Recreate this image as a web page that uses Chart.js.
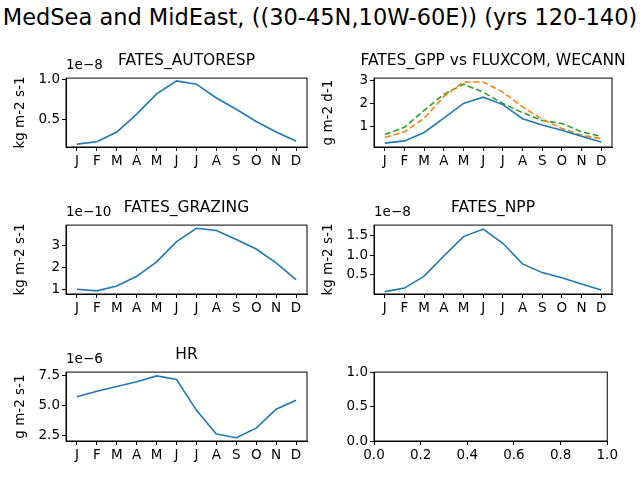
<!DOCTYPE html>
<html>
<head>
<script src="https://cdn.jsdelivr.net/npm/chart.js@4"></script>
<style>
  body { margin: 0; width: 640px; height: 480px; background: #fff; position: relative; overflow: hidden; font-family: "DejaVu Sans", sans-serif; }
  canvas { position: absolute; }
  .lbl { position: absolute; white-space: nowrap; color: #000; }
  .title { font-size: 15.5px; transform: translateX(-50%); }
  .sup { font-size: 22.5px; left: 320px; top: 4px; transform: translateX(-50%); }
  .exp { font-size: 13.5px; }
</style>
</head>
<body>
<div class="lbl sup">MedSea and MidEast, ((30-45N,10W-60E)) (yrs 120-140)</div>
<script>
const months = ["J", "F", "M", "A", "M", "J", "J", "A", "S", "O", "N", "D"];

const autoresp = [0.20, 0.23, 0.35, 0.57, 0.82, 0.98, 0.94, 0.77, 0.63, 0.48, 0.35, 0.24];
const gppFates = [0.25, 0.35, 0.72, 1.35, 2.0, 2.28, 1.95, 1.33, 1.05, 0.82, 0.55, 0.3];
const gppFluxcom = [0.5, 0.75, 1.35, 2.3, 2.95, 2.95, 2.5, 1.85, 1.3, 0.9, 0.6, 0.45];
const gppWecann = [0.63, 0.95, 1.7, 2.4, 2.85, 2.5, 2.0, 1.6, 1.25, 1.12, 0.75, 0.55];
const grazing = [1.02, 0.95, 1.17, 1.6, 2.25, 3.15, 3.75, 3.65, 3.25, 2.82, 2.2, 1.45];
const npp = [0.08, 0.17, 0.47, 0.98, 1.47, 1.66, 1.3, 0.78, 0.56, 0.43, 0.27, 0.12];
const hr = [5.75, 6.2, 6.6, 7.0, 7.5, 7.2, 4.6, 2.6, 2.3, 3.1, 4.7, 5.45];

const blue = "#1f77b4", orange = "#ff7f0e", green = "#2ca02c";
const font = { family: "DejaVu Sans", size: 13.5 };

const boxPlugin = {
  id: "box",
  afterDraw(chart) {
    const a = chart.chartArea, c = chart.ctx;
    c.save();
    c.strokeStyle = "#000";
    c.lineWidth = 1;
    c.strokeRect(a.left, a.top, a.right - a.left, a.bottom - a.top);
    c.restore();
  },
};

function addLabel(cls, text, left, top) {
  const d = document.createElement("div");
  d.className = "lbl " + cls;
  d.textContent = text;
  d.style.left = left + "px";
  d.style.top = top + "px";
  document.body.appendChild(d);
}

function makePlot(p) {
  const padL = 54, padT = 6, padR = 8, padB = 28;
  const cv = document.createElement("canvas");
  const w = p.w + padL + padR, h = p.h + padT + padB;
  cv.width = w; cv.height = h;
  cv.style.left = (p.x - padL) + "px";
  cv.style.top = (p.y - padT) + "px";
  cv.style.width = w + "px";
  cv.style.height = h + "px";
  document.body.appendChild(cv);

  const datasets = (p.series || []).map((s) => ({
    data: s.values.map((v, i) => ({ x: i, y: v })),
    borderColor: s.color,
    borderWidth: 1.6,
    borderDash: s.dash || [],
    pointRadius: 0,
    tension: 0,
    fill: false,
  }));

  const monthAxis = p.series != null;
  new Chart(cv, {
    type: "line",
    data: { datasets },
    options: {
      responsive: false,
      animation: false,
      layout: { padding: { top: padT, right: padR, left: 0, bottom: 0 } },
      plugins: { legend: { display: false }, tooltip: { enabled: false } },
      scales: {
        x: {
          type: "linear",
          min: monthAxis ? -0.55 : 0,
          max: monthAxis ? 11.55 : 1,
          afterBuildTicks: (ax) => {
            ax.ticks = monthAxis ? months.map((m, i) => ({ value: i })) : [0, 0.2, 0.4, 0.6, 0.8, 1.0].map((v) => ({ value: v }));
          },
          afterFit: (ax) => { ax.height = padB; },
          ticks: {
            color: "#000", font, padding: 2, maxRotation: 0, autoSkip: false,
            callback: (v) => monthAxis ? months[Math.round(v)] : Number(v).toFixed(1),
          },
          grid: { drawOnChartArea: false, color: "#000", tickLength: 4 },
          border: { color: "#000" },
        },
        y: {
          min: p.ymin, max: p.ymax,
          afterBuildTicks: (ax) => { ax.ticks = p.yticks.map((v) => ({ value: v })); },
          afterFit: (ax) => { ax.width = padL; },
          title: { display: !!p.ylabel, text: p.ylabel, color: "#000", font, padding: 0 },
          ticks: { color: "#000", font, padding: 2, callback: (v) => Number(v).toFixed(p.dec) },
          grid: { drawOnChartArea: false, color: "#000", tickLength: 4 },
          border: { color: "#000" },
        },
      },
    },
    plugins: [boxPlugin],
  });

  if (p.title) addLabel("title", p.title, p.x + p.w / 2, p.y - 23);
  if (p.exp) addLabel("exp", p.exp, p.x, p.y - 18);
}

makePlot({ x: 66, y: 74, w: 241, h: 73, ymin: 0.165, ymax: 1.015, yticks: [0.5, 1.0], dec: 1,
  title: "FATES_AUTORESP", exp: "1e\u22128", ylabel: "kg m-2 s-1", series: [{ values: autoresp, color: blue }] });
makePlot({ x: 374, y: 74, w: 238, h: 73, ymin: 0.08, ymax: 3.12, yticks: [1, 2, 3], dec: 0,
  title: "FATES_GPP vs FLUXCOM, WECANN", ylabel: "g m-2 d-1",
  series: [
    { values: gppFates, color: blue },
    { values: gppFluxcom, color: orange, dash: [6, 3] },
    { values: gppWecann, color: green, dash: [6, 3] },
  ] });
makePlot({ x: 66, y: 221, w: 241, h: 73, ymin: 0.81, ymax: 3.89, yticks: [1, 2, 3], dec: 0,
  title: "FATES_GRAZING", exp: "1e\u221210", ylabel: "kg m-2 s-1", series: [{ values: grazing, color: blue }] });
makePlot({ x: 374, y: 221, w: 238, h: 73, ymin: 0.02, ymax: 1.76, yticks: [0.5, 1.0, 1.5], dec: 1,
  title: "FATES_NPP", exp: "1e\u22128", ylabel: "kg m-2 s-1", series: [{ values: npp, color: blue }] });
makePlot({ x: 66, y: 368, w: 241, h: 73, ymin: 2.02, ymax: 7.82, yticks: [2.5, 5.0, 7.5], dec: 1,
  title: "HR", exp: "1e\u22126", ylabel: "g m-2 s-1", series: [{ values: hr, color: blue }] });
makePlot({ x: 374, y: 368, w: 238, h: 73, ymin: 0, ymax: 1, yticks: [0, 0.5, 1.0], dec: 1 });
</script>
</body>
</html>
